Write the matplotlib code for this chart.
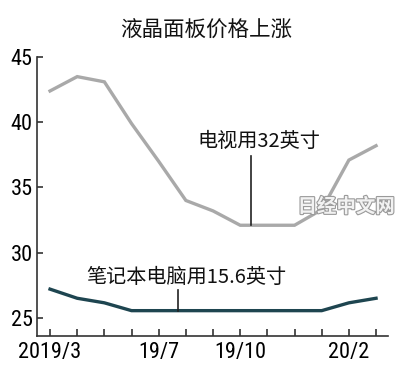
import matplotlib
matplotlib.use("Agg")
import matplotlib.pyplot as plt
import matplotlib.patheffects as pe
from matplotlib import font_manager

months = ["2019/3", "19/4", "19/5", "19/6", "19/7", "19/8", "19/9", "19/10",
          "19/11", "19/12", "20/1", "20/2", "20/3"]
tv32 = [42.4, 43.5, 43.1, 39.9, 37.0, 34.0, 33.2, 32.1, 32.1, 32.1, 33.3, 37.1, 38.2]
nb156 = [27.2, 26.5, 26.15, 25.55, 25.55, 25.55, 25.55, 25.55, 25.55, 25.55, 25.55, 26.15, 26.5]
shown_labels = {0: "2019/3", 4: "19/7", 7: "19/10", 11: "20/2"}
yticks = [25, 30, 35, 40, 45]

names = {f.name for f in font_manager.fontManager.ttflist}
num_font = "DejaVu Sans"
for cand in ["Liberation Sans Narrow", "Arial Narrow", "Roboto Condensed", "Archivo Narrow",
             "Barlow Semi Condensed"]:
    if cand in names:
        num_font = cand
        break
cjk = ["Noto Sans CJK SC", "DejaVu Sans"]

fig = plt.figure(figsize=(4.0, 3.73), dpi=100)
ax = fig.add_axes([0.0925, 0.099, 0.8775, 0.748])
x = list(range(len(months)))
ax.plot(x, tv32, color="#a9a9a9", lw=2.4, solid_joinstyle="miter", zorder=3)
ax.plot(x, nb156, color="#1e4550", lw=2.4, solid_joinstyle="miter", zorder=3)

ax.set_xlim(-0.48, 12.44)
ax.set_ylim(23.6, 45)
ax.set_xticks(x)
ax.set_xticklabels([shown_labels.get(i, "") for i in x], fontfamily=num_font, fontsize=16)
ax.set_yticks(yticks)
ax.set_yticklabels([str(v) for v in yticks], fontfamily=num_font, fontsize=16)
ax.tick_params(axis="x", direction="in", length=5, width=1.2, color="#333333", pad=4)
ax.tick_params(axis="y", direction="in", length=4, width=1.2, color="#333333", pad=3)
for s in ["top", "right"]:
    ax.spines[s].set_visible(False)
for s in ["left", "bottom"]:
    ax.spines[s].set_linewidth(1.2)
    ax.spines[s].set_color("#333333")

# annotations
ax.plot([7.4, 7.4], [32.1, 37.4], color="#222222", lw=1.2, zorder=4)
ax.text(7.7, 37.7, "电视用32英寸", fontfamily=cjk, fontsize=14.5, ha="center", va="bottom", color="#111111")
ax.plot([4.7, 4.7], [25.55, 27.1], color="#222222", lw=1.2, zorder=4)
ax.text(5.0, 27.3, "笔记本电脑用15.6英寸", fontfamily=cjk, fontsize=14.5, ha="center", va="bottom", color="#111111")

ax.text(12.7, 33.5, "日经中文网", fontfamily=cjk, fontsize=14, fontweight="bold", ha="right", va="center",
        color="#f2f2f2", zorder=5,
        path_effects=[pe.withStroke(linewidth=1.6, foreground="#9a9a9a")])

fig.text(0.515, 0.917, "液晶面板价格上涨", fontfamily=cjk, fontsize=15.5, ha="center", va="center", color="#111111")

fig.savefig("out.png", dpi=100)
